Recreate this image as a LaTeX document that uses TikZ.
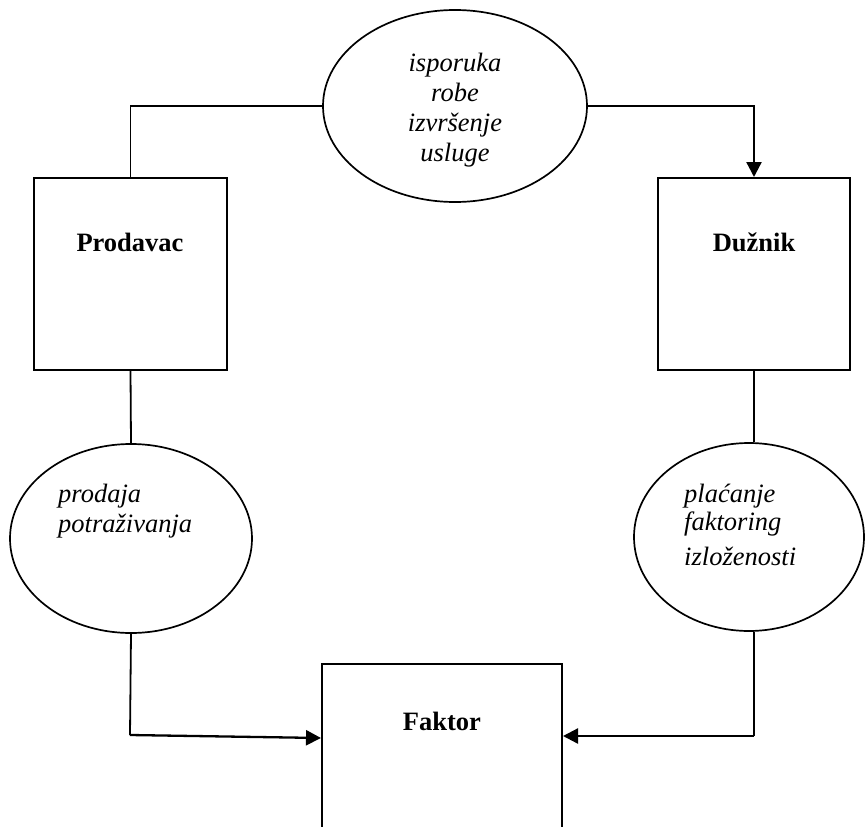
\documentclass[tikz,border=0pt]{standalone}
\usepackage{fontspec}
\setmainfont{Liberation Serif}
\usetikzlibrary{shapes.geometric,arrows.meta}
\begin{document}
\begin{tikzpicture}[x=1pt,y=-1pt,
  party/.style={draw,line width=2pt,rectangle,inner sep=0pt},
  flow/.style={draw,line width=1.7pt,ellipse,inner sep=0pt},
  partytext/.style={font=\fontsize{26.5}{30}\selectfont\bfseries,anchor=base,inner sep=0pt},
  flowtext/.style={font=\fontsize{26.5}{30}\selectfont\itshape,anchor=base west,inner sep=0pt,align=left},
  link/.style={line width=1.8pt},
  arr/.style={line width=2.3pt,-{Triangle[length=15pt,width=15pt]}}]
\useasboundingbox (0,0) rectangle (865,827);
\clip (0,0) rectangle (865,827);

% parties
\node[party,minimum width=193pt,minimum height=192pt] (prod) at (130.5,274) {};
\node[party,minimum width=192pt,minimum height=192pt] (duz) at (754,274) {};
\node[party,minimum width=240pt,minimum height=190pt,anchor=north] (fak) at (442,663) {};
\node[partytext] (prodt) at (130,251) {Prodavac};
\node[partytext] (duzt) at (754,251) {Dužnik};
\node[partytext] (fakt) at (442,730) {Faktor};

% flows
\node[flow,minimum width=264pt,minimum height=192pt] (isp) at (455,106) {};
\node[flow,minimum width=242pt,minimum height=189pt] (prd) at (131,538.5) {};
\node[flow,minimum width=230pt,minimum height=188pt] (plc) at (749,537) {};

% multi-line labels: the base anchor sits on the last line
\node[font=\fontsize{26.5}{30}\selectfont\itshape,align=center,anchor=base,inner sep=0pt] (ispt) at (455,161)
  {isporuka\\robe\\izvršenje\\usluge};
\node[flowtext] (prdt) at (58,532) {prodaja\\potraživanja};
\node[flowtext] (plct) at (684,565) {plaćanje\\[-2pt]faktoring\\[5pt]izloženosti};

% connectors
\draw[link] (prod.north) |- (isp.west);
\draw[arr] (isp.east) -| (duz.north);
\draw[link] (prod.south) -- (prd.north);
\draw[link] (duz.south) -- (duz.south |- plc.north);
\coordinate (lcorner) at (130,735);
\coordinate (rcorner) at (754,736);
\draw[link] (prd.south) -- (lcorner);
\draw[arr] (lcorner) -- ([yshift=-75pt]fak.north west);
\draw[link] (plc.south -| duz.south) -- (rcorner);
\draw[arr] (rcorner) -- ([yshift=-73pt]fak.north east);
\end{tikzpicture}
\end{document}
